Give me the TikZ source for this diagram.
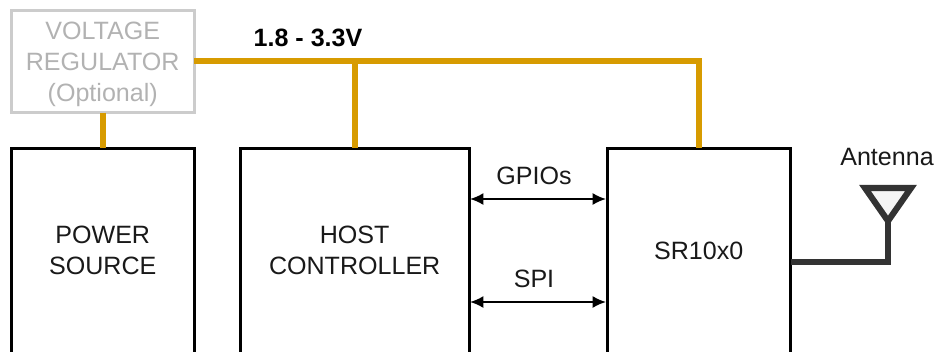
\documentclass[tikz,border=0pt]{standalone}
\usepackage{fontspec}
\setmainfont{Liberation Sans}
\usetikzlibrary{arrows.meta}
\definecolor{gold}{HTML}{D79B00}
\definecolor{dark}{HTML}{333333}
\tikzset{
  labeltext/.style={font=\fontsize{18.8pt}{23pt}\selectfont,align=center,text=black!90,inner sep=0pt,outer sep=0pt},
  block/.style={labeltext,draw=black,line width=2.25pt,minimum height=153.9pt,anchor=north west},
  optblock/.style={labeltext,draw=black!20,line width=2.25pt,text=black!30,minimum width=137.6pt,minimum height=77pt,anchor=north west},
  rail/.style={draw=gold,line width=4.5pt},
  bus/.style={draw=black,line width=1.5pt,{Latex[length=10pt,width=9pt]}-{Latex[length=10pt,width=9pt]}},
  rf/.style={draw=dark,line width=4.6pt},
}
\begin{document}
\begin{tikzpicture}[x=0.75pt,y=-0.75pt]
\useasboundingbox (0,0) rectangle (935,351);
\clip (0,0) rectangle (935,351);
\node[optblock] (reg) at (11,10) {\rule{0pt}{17.5pt}VOLTAGE\\REGULATOR\\(Optional)};
\node[block,minimum width=137.6pt] (pwr) at (11,148) {POWER\\SOURCE};
\node[block,minimum width=172pt] (host) at (240,148) {HOST\\CONTROLLER};
\node[block,minimum width=137.6pt] (sr) at (607,148) {SR10x0};
\coordinate (railbend) at (sr.north |- reg.east);
\draw[rail] (reg.south) -- (pwr.north);
\draw[rail] (reg.east) -- (railbend) -- (sr.north);
\coordinate (railtap) at (host.north |- reg.east);
\draw[rail] (railtap) -- (host.north);
\node[labeltext,font=\fontsize{18.8pt}{23pt}\selectfont\bfseries,text=black] (volt) at (308,38) {1.8 - 3.3V};
\coordinate (gl) at (470,199); \coordinate (gr) at (606,199);
\coordinate (sl) at (470,302); \coordinate (sr2) at (606,302);
\draw[bus] (gl) -- (gr);
\draw[bus] (sl) -- (sr2);
\node[labeltext] (gpio) at (534,176) {GPIOs};
\node[labeltext] (spi) at (534,279) {SPI};
\coordinate (feedstart) at (791,262);
\coordinate (feedbend) at (888,262);
\coordinate (tip) at (888,220);
\draw[rf,line join=miter] (feedstart) -- (feedbend) -- (tip);
\draw[rf,fill=black!4,line join=miter] (865,188) -- (911,188) -- (888,221) -- cycle;
\node[labeltext] (ant) at (887,157) {Antenna};
\end{tikzpicture}
\end{document}
